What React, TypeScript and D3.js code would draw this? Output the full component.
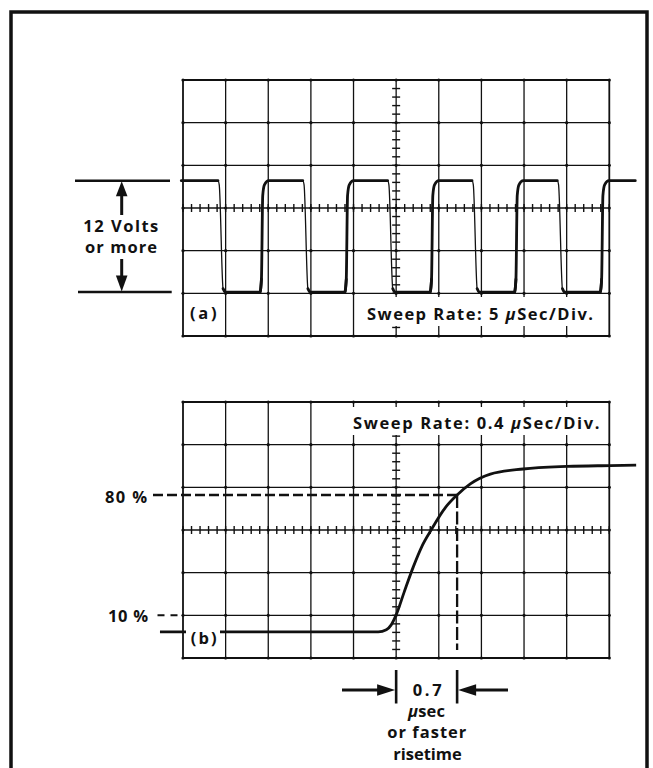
import React from 'react';
import * as d3 from 'd3';

// Graticule divisions (10 x 6)
const gridCols = [0, 1, 2, 3, 4, 5, 6, 7, 8, 9, 10];
const gridRows = [-3, -2, -1, 0, 1, 2, 3];

// (a) square wave, values in divisions
const sqHigh = 0.64;
const sqLow = -1.97;
const sqStart = -0.04;
const sqEnd = 10.61;
const sqFall = [0.82, 2.81, 4.8, 6.78, 8.78];
const sqRise = [1.81, 3.8, 5.8, 7.78, 9.79];

// (b) rise trace, values in divisions
const riseT = [-0.54, 4.58, 4.77, 4.88, 5.0, 5.19, 5.4, 5.61, 5.82, 6.15, 6.43, 6.74, 7.21, 7.98, 9.01, 10.02, 10.63];
const riseV = [-2.39, -2.39, -2.34, -2.23, -1.99, -1.45, -0.87, -0.37, 0.0, 0.52, 0.82, 1.08, 1.31, 1.43, 1.49, 1.51, 1.52];
const lvl10 = -2.0;
const lvl80 = 0.82;
const t10 = 5.0;
const t80 = 6.43;

const FONT = "'Open Sans', 'DejaVu Sans', sans-serif";
const INK = '#111';

type Pt = [number, number];

function buildSquare(): Pt[] {
  const pts: Pt[] = [[sqStart, sqHigh]];
  sqFall.forEach((f, i) => {
    const r = sqRise[i];
    pts.push([f, sqHigh], [f + 0.03, sqHigh - 0.1], [f + 0.12, sqLow + 0.08], [f + 0.17, sqLow]);
    pts.push([r, sqLow], [r + 0.03, sqLow + 0.3], [r + 0.06, sqHigh - 0.35], [r + 0.1, sqHigh - 0.1], [r + 0.2, sqHigh]);
  });
  pts.push([sqEnd, sqHigh]);
  return pts;
}

function Graticule({ x, y, id }: { x: d3.ScaleLinear<number, number>; y: d3.ScaleLinear<number, number>; id: string }) {
  const x0 = x(0), x1 = x(10), y0 = y(3), y1 = y(-3);
  const minorX = d3.range(0, 10.001, 0.2);
  const minorY = d3.range(-3, 3.001, 0.2);
  return (
    <g>
      {gridCols.map((c) => (
        <line key={`${id}v${c}`} x1={x(c)} x2={x(c)} y1={y0} y2={y1} stroke={INK} strokeWidth={c === 0 || c === 10 ? 1.8 : 1.3} />
      ))}
      {gridRows.map((r) => (
        <line key={`${id}h${r}`} x1={x0} x2={x1} y1={y(r)} y2={y(r)} stroke={INK} strokeWidth={r === 3 || r === -3 ? 1.8 : 1.3} />
      ))}
      {minorX.map((m, i) => (
        <line key={`${id}mx${i}`} x1={x(m)} x2={x(m)} y1={y(0) - 4} y2={y(0) + 4} stroke={INK} strokeWidth={1.4} />
      ))}
      {minorY.map((m, i) => (
        <line key={`${id}my${i}`} x1={x(5) - 4} x2={x(5) + 4} y1={y(m)} y2={y(m)} stroke={INK} strokeWidth={1.4} />
      ))}
      {gridCols.map((c) =>
        gridRows.map((r) => <circle key={`${id}d${c}_${r}`} cx={x(c)} cy={y(r)} r={1.6} fill={INK} />)
      )}
    </g>
  );
}

// renders a string, drawing any "μ" in italic
function Txt({ s, x, base, len, size = 16.5 }: { s: string; x: number; base: number; len: number; size?: number }) {
  const parts = s.split('\u03bc');
  return (
    <text x={x} y={base} fontFamily={FONT} fontWeight={700} fontSize={size} fill={INK}
      textLength={len} lengthAdjust="spacing">
      {parts.map((p, i) => (
        <React.Fragment key={i}>
          {i > 0 && <tspan fontStyle="italic">{'\u03bc'}</tspan>}
          {p.length > 0 && <tspan>{p}</tspan>}
        </React.Fragment>
      ))}
    </text>
  );
}

export default function App() {
  const x = d3.scaleLinear().domain([0, 10]).range([183, 609.3]);
  const yA = d3.scaleLinear().domain([-3, 3]).range([336, 80]);
  const yB = d3.scaleLinear().domain([-3, 3]).range([658, 402]);

  const sq = buildSquare();
  const lineA = d3.line<Pt>().x((d) => x(d[0])).y((d) => yA(d[1])).curve(d3.curveMonotoneX);
  const lineB = d3.line<Pt>().x((d) => x(d[0])).y((d) => yB(d[1])).curve(d3.curveMonotoneX);

  // thick portions: rising edge + high plateau, and low plateau
  const thickSegs: Pt[][] = [];
  const highStarts = [sqStart, ...sqRise];
  const highEnds = [...sqFall, sqEnd];
  highStarts.forEach((s, i) => {
    thickSegs.push(sq.filter((p) => p[0] >= s - 1e-9 && p[0] <= highEnds[i] + 1e-9));
  });
  sqFall.forEach((f, i) => {
    thickSegs.push(sq.filter((p) => p[0] >= f + 0.12 - 1e-9 && p[0] <= sqRise[i] + 0.03 + 1e-9));
  });

  const risePts: Pt[] = riseT.map((t, i) => [t, riseV[i]]);

  const arrowHead = (tipX: number, tipY: number, dir: 'up' | 'down' | 'left' | 'right', len: number, half: number) => {
    let pts: Pt[];
    if (dir === 'up') pts = [[tipX, tipY], [tipX - half, tipY + len], [tipX + half, tipY + len]];
    else if (dir === 'down') pts = [[tipX, tipY], [tipX - half, tipY - len], [tipX + half, tipY - len]];
    else if (dir === 'right') pts = [[tipX, tipY], [tipX - len, tipY - half], [tipX - len, tipY + half]];
    else pts = [[tipX, tipY], [tipX + len, tipY - half], [tipX + len, tipY + half]];
    return <polygon points={pts.map((p) => p.join(',')).join(' ')} fill={INK} />;
  };

  const yHigh = yA(sqHigh);
  const yLow = yA(sqLow);
  const arrowX = 121.7;
  const y80 = yB(lvl80);
  const y10 = yB(lvl10);
  const xL = x(t10);
  const xR = x(t80);

  return (
    <svg width={653} height={768} style={{ position: 'absolute', left: 0, top: 0, background: '#fff' }}>
      <rect x={0} y={0} width={653} height={768} fill="#fff" />
      {/* outer frame */}
      <rect x={11} y={12} width={636} height={758} fill="none" stroke={INK} strokeWidth={3.5} />

      {/* ===== (a) ===== */}
      <Graticule x={x} y={yA} id="a" />
      <path d={lineA(sq) || ''} fill="none" stroke={INK} strokeWidth={1.3} />
      {thickSegs.map((seg, i) => (
        <path key={`ts${i}`} d={lineA(seg) || ''} fill="none" stroke={INK} strokeWidth={2.8} strokeLinecap="round" />
      ))}
      <rect x={362} y={297} width={236} height={29} fill="#fff" />
      <Txt s={'Sweep Rate: 5 \u03bcSec/Div.'} x={367} base={319.5} len={226} />
      <Txt s="(a)" x={190} base={319} len={26.5} />

      {/* 12 Volts dimension */}
      <line x1={75} x2={170} y1={yHigh} y2={yHigh} stroke={INK} strokeWidth={2.6} />
      <line x1={78} x2={171.7} y1={yLow} y2={yLow} stroke={INK} strokeWidth={2.6} />
      {arrowHead(arrowX, yHigh + 0.5, 'up', 15, 5.8)}
      <line x1={arrowX} x2={arrowX} y1={yHigh + 14} y2={215} stroke={INK} strokeWidth={3} />
      {arrowHead(arrowX, yLow - 0.5, 'down', 16, 5.8)}
      <line x1={arrowX} x2={arrowX} y1={259} y2={yLow - 15} stroke={INK} strokeWidth={3} />
      <Txt s="12 Volts" x={83.3} base={231.7} len={75} />
      <Txt s="or more" x={85} base={253.3} len={72} />

      {/* ===== (b) ===== */}
      <Graticule x={x} y={yB} id="b" />
      <path d={lineB(risePts) || ''} fill="none" stroke={INK} strokeWidth={2.8} />
      <line x1={153} x2={xR} y1={y80} y2={y80} stroke={INK} strokeWidth={2.6} strokeDasharray="10 4" />
      <line x1={xR} x2={xR} y1={y80} y2={650} stroke={INK} strokeWidth={2.3} strokeDasharray="13 3.5" />
      <line x1={157.5} x2={180} y1={y10} y2={y10} stroke={INK} strokeWidth={2} strokeDasharray="7 6" />
      <rect x={349} y={407} width={255} height={28} fill="#fff" />
      <Txt s={'Sweep Rate: 0.4 \u03bcSec/Div.'} x={353} base={428.5} len={246.5} />
      <rect x={186} y={626} width={34} height={24} fill="#fff" />
      <Txt s="(b)" x={190.7} base={644} len={26} />
      <Txt s="80 %" x={105} base={503.3} len={42} />
      <Txt s="10 %" x={108} base={622.3} len={40} />

      {/* 0.7 usec annotation */}
      <line x1={xL} x2={xL} y1={670} y2={703.5} stroke={INK} strokeWidth={2.6} />
      <line x1={xR} x2={xR} y1={670} y2={703.5} stroke={INK} strokeWidth={2.6} />
      <line x1={342} x2={xL - 16} y1={690} y2={690} stroke={INK} strokeWidth={3.2} />
      {arrowHead(xL - 1, 690, 'right', 18, 5.8)}
      <line x1={508} x2={xR + 16} y1={690} y2={690} stroke={INK} strokeWidth={3.2} />
      {arrowHead(xR + 1, 690, 'left', 18, 5.8)}
      <Txt s="0.7" x={412.7} base={695.5} len={29} />
      <Txt s={'\u03bcsec'} x={408} base={716.7} len={37} />
      <Txt s="or faster" x={387.3} base={738.3} len={79} />
      <Txt s="risetime" x={393.3} base={760} len={68.5} />
    </svg>
  );
}
